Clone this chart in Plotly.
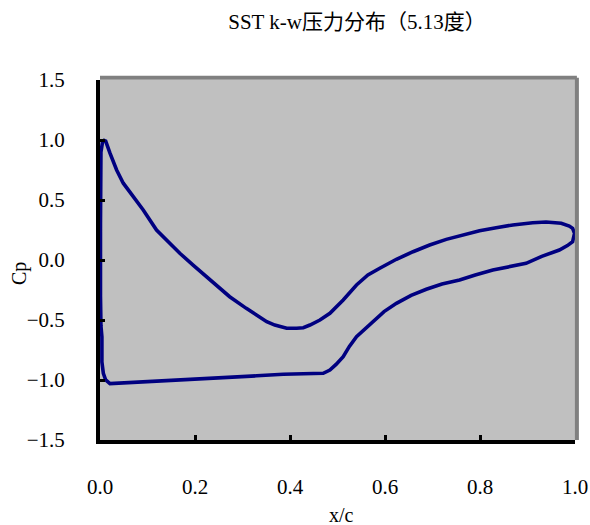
import plotly.graph_objects as go

# Pressure coefficient around the airfoil (closed loop, starting at the stagnation point)
x_upper = [0.006, 0.012, 0.021, 0.035, 0.049, 0.06, 0.07, 0.091, 0.119, 0.144, 0.168,
           0.196, 0.224, 0.249, 0.273, 0.308, 0.351, 0.368, 0.393, 0.414, 0.428, 0.442,
           0.463, 0.484, 0.512, 0.54, 0.564, 0.589, 0.624, 0.659, 0.694, 0.729, 0.764,
           0.799, 0.834, 0.869, 0.911, 0.939, 0.971, 0.988, 0.995, 0.999]
cp_upper = [1.0, 0.99, 0.89, 0.75, 0.64, 0.58, 0.53, 0.417, 0.25, 0.153, 0.056,
            -0.042, -0.139, -0.222, -0.306, -0.403, -0.514, -0.542, -0.569, -0.569, -0.564, -0.542,
            -0.5, -0.444, -0.333, -0.208, -0.125, -0.069, 0.006, 0.069, 0.125, 0.172, 0.208,
            0.244, 0.269, 0.292, 0.311, 0.317, 0.306, 0.283, 0.264, 0.222]

x_lower = [0.995, 0.984, 0.967, 0.93, 0.897, 0.86, 0.827, 0.79, 0.757, 0.72, 0.687,
           0.655, 0.624, 0.598, 0.575, 0.555, 0.54, 0.525, 0.512, 0.497, 0.484, 0.47,
           0.43, 0.386, 0.33, 0.274, 0.182, 0.123, 0.07, 0.021, 0.012, 0.007, 0.004,
           0.004, 0.004, 0.002, 0.001, 0.001, 0.001, 0.002, 0.006]
cp_lower = [0.153, 0.12, 0.083, 0.03, -0.028, -0.058, -0.083, -0.125, -0.167, -0.2, -0.244,
            -0.295, -0.361, -0.43, -0.514, -0.58, -0.639, -0.72, -0.806, -0.87, -0.917, -0.944,
            -0.946, -0.952, -0.965, -0.978, -0.993, -1.007, -1.02, -1.03, -1.0, -0.944, -0.85,
            -0.78, -0.64, -0.55, -0.3, 0.3, 0.8, 0.9, 1.0]

x_ticks = [0.0, 0.2, 0.4, 0.6, 0.8, 1.0]
y_ticks = [-1.5, -1.0, -0.5, 0.0, 0.5, 1.0, 1.5]

x_all = x_upper + x_lower
cp_all = cp_upper + cp_lower

serif = "'Liberation Serif', 'DejaVu Serif', 'Noto Sans CJK SC', serif"
tick_font = dict(family=serif, size=21, color="#000000")
text_font = dict(family=serif, size=20, color="#000000")
title_font = dict(family=serif, size=21, color="#000000")

fig = go.Figure()
fig.add_trace(go.Scatter(
    x=x_all, y=cp_all, mode="lines",
    line=dict(color="#000080", width=3.6),
    showlegend=False, hoverinfo="skip",
))

fig.update_layout(
    width=590, height=525,
    margin=dict(l=100, r=15, t=80, b=85, autoexpand=False),
    paper_bgcolor="#ffffff",
    plot_bgcolor="#c0c0c0",
    title=dict(
        text="SST k-w压力分布（5.13度）",
        x=357 / 590, xref="container", xanchor="center",
        y=1 - 22 / 525, yref="container", yanchor="middle",
        font=title_font,
    ),
    xaxis=dict(
        range=[0, 1.0], tickvals=x_ticks, tickformat=".1f", automargin=False,
        showgrid=False, zeroline=False,
        showline=True, linecolor="#000000", linewidth=4,
        ticks="inside", ticklen=5, tickwidth=3, tickcolor="#000000",
        tickfont=tick_font, ticklabelstandoff=25,
    ),
    yaxis=dict(
        range=[-1.5, 1.5], tickvals=y_ticks, tickformat=".1f", automargin=False,
        showgrid=False, zeroline=False,
        showline=True, linecolor="#000000", linewidth=4,
        ticks="inside", ticklen=5, tickwidth=3, tickcolor="#000000",
        tickfont=tick_font, ticklabelstandoff=27,
    ),
    shapes=[
        dict(type="line", xref="paper", yref="paper", x0=0, x1=1.004, y0=1.006, y1=1.006,
             line=dict(color="#808080", width=4)),
        dict(type="line", xref="paper", yref="paper", x0=1.004, x1=1.004, y0=0, y1=1.006,
             line=dict(color="#808080", width=4)),
    ],
    annotations=[
        dict(text="Cp", xref="paper", yref="paper",
             x=(19 - 100) / 475, y=(440 - 274) / 360,
             xanchor="center", yanchor="middle", textangle=-90,
             showarrow=False, font=text_font),
        dict(text="x/c", xref="paper", yref="paper",
             x=(341 - 100) / 475, y=(440 - 515) / 360,
             xanchor="center", yanchor="middle",
             showarrow=False, font=text_font),
    ],
)

fig.write_html("out.html")
